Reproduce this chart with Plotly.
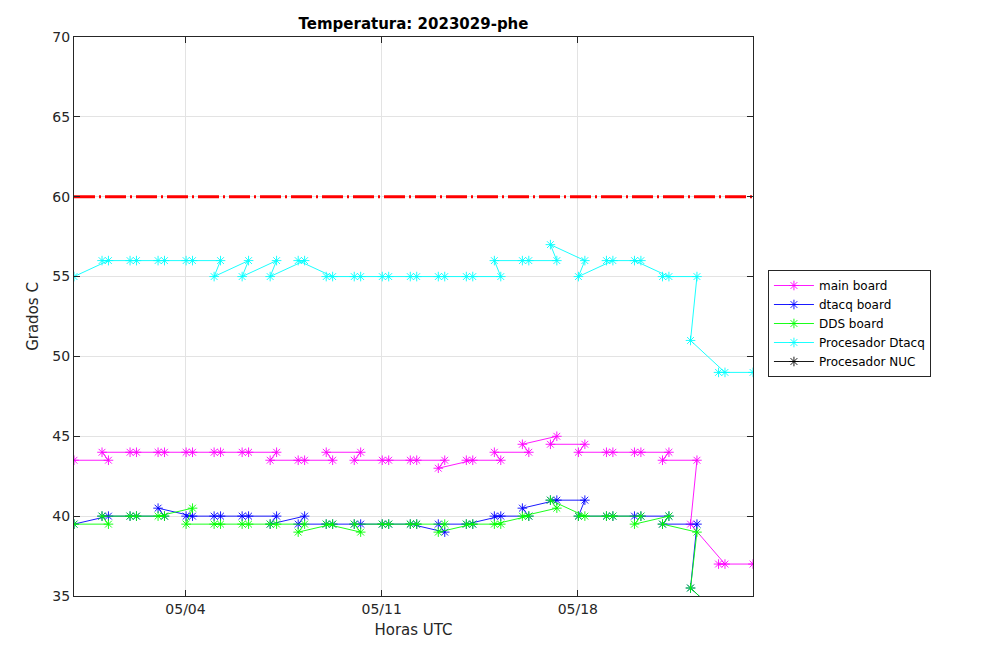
import plotly.graph_objects as go

# sample times, in the order the logger wrote them (late reading, then early one)
times = [
    "2023-04-30 00:30",
    "2023-05-01 06:00", "2023-05-01 00:30",
    "2023-05-02 06:00", "2023-05-02 00:30",
    "2023-05-03 06:00", "2023-05-03 00:30",
    "2023-05-04 06:00", "2023-05-04 00:30",
    "2023-05-05 06:00", "2023-05-05 00:30",
    "2023-05-06 06:00", "2023-05-06 00:30",
    "2023-05-07 06:00", "2023-05-07 00:30",
    "2023-05-08 06:00", "2023-05-08 00:30",
    "2023-05-09 06:00", "2023-05-09 00:30",
    "2023-05-10 06:00", "2023-05-10 00:30",
    "2023-05-11 06:00", "2023-05-11 00:30",
    "2023-05-12 06:00", "2023-05-12 00:30",
    "2023-05-13 06:00", "2023-05-13 00:30",
    "2023-05-14 06:00", "2023-05-14 00:30",
    "2023-05-15 06:00", "2023-05-15 00:30",
    "2023-05-16 06:00", "2023-05-16 00:30",
    "2023-05-17 06:00", "2023-05-17 00:30",
    "2023-05-18 06:00", "2023-05-18 00:30",
    "2023-05-19 06:00", "2023-05-19 00:30",
    "2023-05-20 06:00", "2023-05-20 00:30",
    "2023-05-21 06:00", "2023-05-21 00:30",
    "2023-05-22 06:00", "2023-05-22 00:30",
    "2023-05-23 06:00", "2023-05-23 00:30",
    "2023-05-24 06:00",
]

main_board = [
    43.5,
    43.5, 44, 44, 44, 44, 44, 44, 44, 44, 44, 44, 44, 44, 43.5,
    43.5, 43.5, 43.5, 44, 44, 43.5, 43.5, 43.5, 43.5, 43.5, 43.5, 43,
    43.5, 43.5, 43.5, 44, 44, 44.5, 45, 44.5, 44.5, 44, 44, 44, 44, 44,
    44, 43.5, 43.5, 39.5, 37, 37,
    37,
]

dtacq_board = [
    39.5,
    40, 40, 40, 40, 40, 40.5, 40, 40, 40, 40, 40, 40, 40, 39.5,
    40, 39.5, 39.5, 39.5, 39.5, 39.5, 39.5, 39.5, 39.5, 39.5, 39, 39.5,
    39.5, 39.5, 40, 40, 40, 40.5, 41, 41, 41, 40, 40, 40, 40, 40,
    40, 39.5, 39.5, 35.5, 33.5, 33.5,
    33.5,
]

dds_board = [
    39.5,
    39.5, 40, 40, 40, 40, 40, 40.5, 39.5, 39.5, 39.5, 39.5, 39.5, 39.5, 39.5,
    39.5, 39, 39.5, 39.5, 39, 39.5, 39.5, 39.5, 39.5, 39.5, 39.5, 39,
    39.5, 39.5, 39.5, 39.5, 40, 40, 40.5, 41, 40, 40, 40, 40, 40, 39.5,
    40, 39.5, 39, 35.5, 33.5, 33.5,
    33.5,
]

proc_dtacq = [
    55,
    56, 56, 56, 56, 56, 56, 56, 56, 56, 55, 56, 55, 56, 55,
    56, 56, 55, 55, 55, 55, 55, 55, 55, 55, 55, 55,
    55, 55, 55, 56, 56, 56, 56, 57, 56, 55, 56, 56, 56, 56,
    55, 55, 55, 51, 49, 49,
    49,
]

proc_nuc = [None] * len(times)

limit = 60

series = [
    ("main board", main_board, "#ff00ff"),
    ("dtacq board", dtacq_board, "#0000ff"),
    ("DDS board", dds_board, "#00ff00"),
    ("Procesador Dtacq", proc_dtacq, "#00ffff"),
    ("Procesador NUC", proc_nuc, "#000000"),
]

font = "DejaVu Sans"
axis_color = "#262626"

fig = go.Figure()

fig.add_trace(
    go.Scatter(
        x=[min(times), max(times)],
        y=[limit, limit],
        mode="lines",
        line=dict(color="#ff0000", width=3, dash="21px,4px,2px,4px"),
        showlegend=False,
        hoverinfo="skip",
    )
)

for name, values, color in series:
    fig.add_trace(
        go.Scatter(
            x=times,
            y=values,
            name=name,
            mode="lines+markers",
            line=dict(color=color, width=0.9),
            marker=dict(symbol="asterisk-open", size=8, line=dict(color=color, width=0.9)),
        )
    )

# the page adds an 8px body margin, so the figure is a bit smaller than the window
fig.update_layout(
    width=1000,
    height=653,
    margin=dict(l=66, r=255, t=29, b=65, autoexpand=False),
    paper_bgcolor="white",
    plot_bgcolor="white",
    font=dict(family=font, size=14, color=axis_color),
    title=dict(
        text="<b>Temperatura: 2023029-phe</b>",
        x=0.5, xref="paper", xanchor="center",
        y=1 - 16 / 653, yref="container", yanchor="middle",
        font=dict(family=font, size=15, color="black"),
    ),
    xaxis=dict(
        range=[min(times), max(times)],
        tick0="2023-05-04",
        dtick=7 * 86400000,
        tickformat="%m/%d",
        ticks="inside",
        ticklen=6,
        tickcolor=axis_color,
        showline=True,
        linecolor=axis_color,
        mirror="ticks",
        showgrid=True,
        gridcolor="#e3e3e3",
        zeroline=False,
        title=dict(text="Horas UTC", standoff=8, font=dict(size=15)),
    ),
    yaxis=dict(
        range=[35, 70],
        dtick=5,
        ticks="inside",
        ticklen=6,
        tickcolor=axis_color,
        showline=True,
        linecolor=axis_color,
        mirror="ticks",
        showgrid=True,
        gridcolor="#e3e3e3",
        zeroline=False,
        title=dict(text="Grados C", standoff=10, font=dict(size=15)),
    ),
    legend=dict(
        x=1.022, y=(588 - 262) / 559,
        xanchor="left", yanchor="top",
        bgcolor="white",
        bordercolor=axis_color,
        borderwidth=1,
        font=dict(family=font, size=12, color="black"),
        tracegroupgap=0,
        itemwidth=40,
    ),
)

fig.write_html("out.html")
